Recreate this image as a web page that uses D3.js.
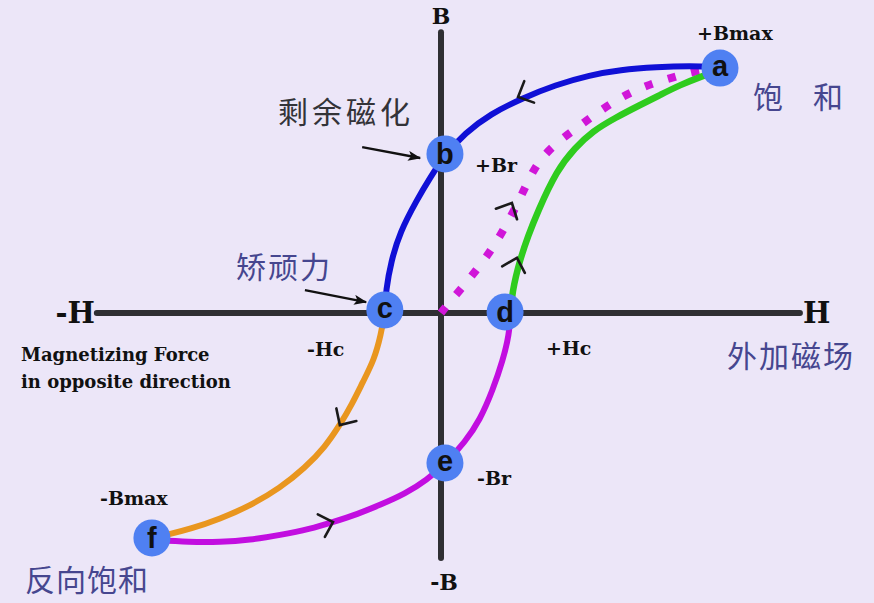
<!DOCTYPE html>
<html><head><meta charset="utf-8">
<script src="https://cdn.jsdelivr.net/npm/d3@7"></script>
<style>html,body{margin:0;padding:0;background:#ece6f8;}svg{display:block}</style>
</head><body><svg id="chart" width="874" height="603"></svg>
<script>
// ---------- data (H, B) in relative units ----------
const blueCurve = [[77.5,94.6],[69.2,95.0],[60.0,94.6],[49.7,93.5],[41.4,91.5],[31.7,87.7],[22.8,82.7],[13.6,76.5],[6.7,69.2],[1.1,60.8],[-3.1,51.9],[-6.7,43.5],[-11.4,31.2],[-13.9,19.6],[-15.3,8.8],[-15.6,0.4]];
const orangeCurve = [[-15.6,0.4],[-16.7,-8.5],[-18.6,-18.1],[-21.7,-26.5],[-24.7,-35.0],[-28.1,-43.1],[-32.2,-51.5],[-37.8,-59.6],[-44.7,-67.3],[-53.1,-74.2],[-61.4,-79.2],[-69.7,-83.1],[-75.3,-85.0],[-80.3,-86.5]];
const magentaCurve = [[-80.3,-87.3],[-69.7,-88.1],[-61.4,-88.1],[-53.1,-87.3],[-44.7,-85.4],[-36.4,-83.1],[-30.0,-80.4],[-23.1,-77.3],[-16.9,-73.8],[-10.0,-69.6],[-3.9,-64.2],[1.1,-58.1],[6.7,-49.6],[10.8,-41.2],[14.4,-29.6],[17.2,-18.1],[18.9,-8.5],[19.4,0.4]];
const greenCurve = [[19.4,0.4],[19.7,7.7],[21.9,20.4],[24.2,29.6],[26.7,38.5],[32.2,55.0],[37.2,63.5],[42.2,70.0],[48.3,75.0],[55.3,80.0],[60.8,83.8],[66.4,87.7],[72.8,91.2],[77.5,93.5]];
const initialCurve = [[0,0],[1.7,3.1],[5.8,9.6],[10.3,17.3],[14.4,25.0],[17.8,33.1],[21.1,41.5],[23.9,50.0],[26.9,58.1],[31.9,65.4],[38.1,71.5],[43.6,77.3],[49.7,82.7],[55.8,86.9],[62.8,90.0],[69.7,92.7],[76.1,94.2]];

const pointNames = ["a","b","c","d","e","f"];
const pointH = [77.5, 1.1, -15.6, 17.8, 1.1, -80.3];
const pointB = [94.2, 61.2, 1.2, 0.4, -57.7, -86.5];

// direction arrows: curve name, H, B
const arrowCurves = ["blue","initial","green","orange","magenta"];
const arrowH = [21.4, 19.7, 21.1, -28.1, -30.0];
const arrowB = [83.1, 42.3, 21.2, -43.1, -80.4];

const axisHRange = [-95.6, 99.7];
const axisBRange = [108, -94.2];

const axisLabels = ["B", "-B", "-H", "H"];
const valueLabels = ["+Bmax", "+Br", "-Hc", "+Hc", "-Br", "-Bmax"];
const noteLines = ["Magnetizing Force", "in opposite direction"];
const chineseLabels = ["剩余磁化", "矫顽力", "饱\u3000和", "外加磁场", "反向饱和"];

// ---------- drawing ----------
const svg = d3.select("#chart");
const x = d3.scaleLinear().domain([-100,100]).range([81,801]);
const y = d3.scaleLinear().domain([-100,100]).range([573,53]);

svg.append("rect").attr("width",874).attr("height",603).attr("fill","#ece6f8");

const defs = svg.append("defs");
defs.append("marker").attr("id","ah").attr("markerUnits","userSpaceOnUse")
  .attr("markerWidth",14).attr("markerHeight",10).attr("refX",12).attr("refY",5)
  .attr("orient","auto")
  .append("path").attr("d","M0,0 L13,5 L0,10 L3,5 Z").attr("fill","#111");

// axes
svg.append("line").attr("x1",x(axisHRange[0])).attr("x2",x(axisHRange[1]))
  .attr("y1",y(0)).attr("y2",y(0)).attr("stroke","#2f2f33").attr("stroke-width",6).attr("stroke-linecap","round");
svg.append("line").attr("x1",x(0)).attr("x2",x(0))
  .attr("y1",y(axisBRange[0])).attr("y2",y(axisBRange[1])).attr("stroke","#2f2f33").attr("stroke-width",6).attr("stroke-linecap","round");

const line = d3.line().x(d=>x(d[0])).y(d=>y(d[1])).curve(d3.curveBasis);

const curves = {
  initial: svg.append("path").datum(initialCurve).attr("d",line).attr("fill","none")
    .attr("stroke","#d016d8").attr("stroke-width",8).attr("stroke-dasharray","8,16"),
  green: svg.append("path").datum(greenCurve).attr("d",line).attr("fill","none")
    .attr("stroke","#2fcc1e").attr("stroke-width",6.5).attr("stroke-linecap","round"),
  blue: svg.append("path").datum(blueCurve).attr("d",line).attr("fill","none")
    .attr("stroke","#1010d6").attr("stroke-width",6).attr("stroke-linecap","round"),
  orange: svg.append("path").datum(orangeCurve).attr("d",line).attr("fill","none")
    .attr("stroke","#e9961f").attr("stroke-width",6).attr("stroke-linecap","round"),
  magenta: svg.append("path").datum(magentaCurve).attr("d",line).attr("fill","none")
    .attr("stroke","#c20ee0").attr("stroke-width",6).attr("stroke-linecap","round")
};

// chevrons along curves
arrowCurves.forEach((cname,i)=>{
  const node = curves[cname].node();
  const tx = x(arrowH[i]), ty = y(arrowB[i]);
  const L = node.getTotalLength();
  let best=0, bd=Infinity;
  for(let l=0;l<=L;l+=1){const p=node.getPointAtLength(l);const d=(p.x-tx)**2+(p.y-ty)**2;if(d<bd){bd=d;best=l;}}
  const p1=node.getPointAtLength(Math.max(0,best-4)), p2=node.getPointAtLength(Math.min(L,best+4));
  const ang=Math.atan2(p2.y-p1.y,p2.x-p1.x);
  const back=ang+Math.PI, s=17, h=44*Math.PI/180;
  const a1=[tx+s*Math.cos(back+h), ty+s*Math.sin(back+h)];
  const a2=[tx+s*Math.cos(back-h), ty+s*Math.sin(back-h)];
  svg.append("path").attr("d",`M${a1[0]},${a1[1]}L${tx},${ty}L${a2[0]},${a2[1]}`)
    .attr("fill","none").attr("stroke","#1a1a1a").attr("stroke-width",2.6)
    .attr("stroke-linecap","round").attr("stroke-linejoin","miter");
});

// annotation arrows
svg.append("line").attr("x1",x(-21.9)).attr("y1",y(63.8)).attr("x2",x(-5.8)).attr("y2",y(59.6))
  .attr("stroke","#111").attr("stroke-width",2.4).attr("marker-end","url(#ah)");
svg.append("line").attr("x1",x(-37.8)).attr("y1",y(8.8)).attr("x2",x(-20.8)).attr("y2",y(4.2))
  .attr("stroke","#111").attr("stroke-width",2.4).attr("marker-end","url(#ah)");

// point circles
const pts = pointNames.map((n,i)=>({n, h:pointH[i], b:pointB[i]}));
svg.selectAll("circle.pt").data(pts).join("circle").attr("class","pt")
  .attr("cx",d=>x(d.h)).attr("cy",d=>y(d.b)).attr("r",18.5).attr("fill","#4f80f2");
const tall = new Set(["b","d","f"]);
svg.selectAll("text.pt").data(pts).join("text").attr("class","pt")
  .attr("x",d=>x(d.h)).attr("y",d=>y(d.b)+(tall.has(d.n)?10.5:8))
  .attr("text-anchor","middle").attr("font-family","Liberation Sans, Arial, sans-serif")
  .attr("font-weight","bold").attr("font-size",29).attr("fill","#111").text(d=>d.n);

// latin labels
const serif = "DejaVu Serif, serif";
function lab(t, px, py, size, anchor){
  return svg.append("text").attr("x",px).attr("y",py).attr("font-family",serif).attr("font-weight","bold")
    .attr("font-size",size).attr("text-anchor",anchor||"start").attr("fill","#111").text(t);
}
lab(axisLabels[0], x(0), 24, 22, "middle");
lab(axisLabels[1], x(0)+3, 590, 22, "middle");
lab(axisLabels[2], 95, 323, 29, "end");
lab(axisLabels[3], 803, 323, 29, "start");
lab(valueLabels[0], 697, 40, 19);
lab(valueLabels[1], 475, 172, 19);
lab(valueLabels[2], 307, 356, 19);
lab(valueLabels[3], 546, 355, 19);
lab(valueLabels[4], 477, 485, 19);
lab(valueLabels[5], 100, 505, 19);
lab(noteLines[0], 21, 361, 18);
lab(noteLines[1], 21, 388, 18);

// chinese labels
const cjk = "Noto Sans CJK SC, sans-serif";
function clab(t, px, py, col, ls){
  return svg.append("text").attr("x",px).attr("y",py).attr("font-family",cjk)
    .attr("font-size",30).attr("letter-spacing",ls||0).attr("fill",col).text(t);
}
clab(chineseLabels[0], 278, 123, "#333338", 4);
clab(chineseLabels[1], 236, 278, "#46468f", 2);
clab(chineseLabels[2], 753, 108, "#46468f", 0);
clab(chineseLabels[3], 727, 367, "#46468f", 2);
clab(chineseLabels[4], 25, 591, "#46468f", 1);
</script></body></html>
